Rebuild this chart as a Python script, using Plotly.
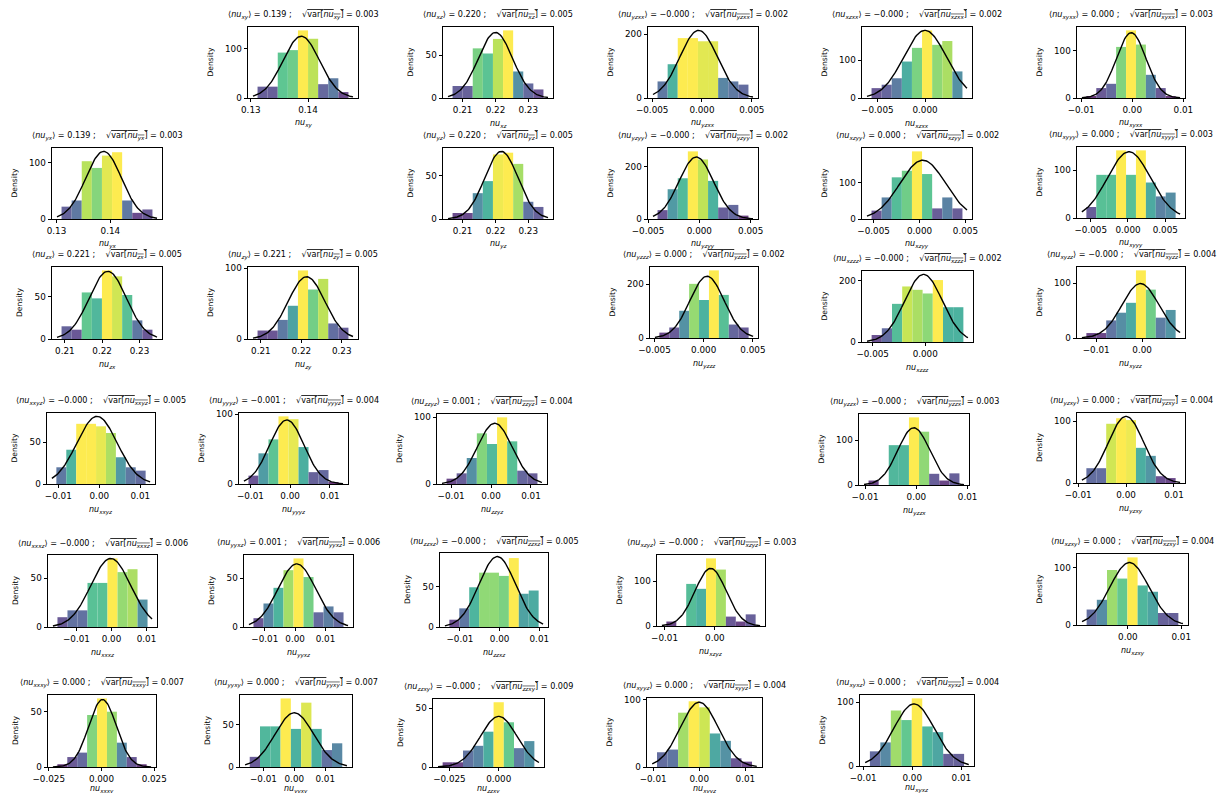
import numpy as np
import plotly.graph_objects as go
from plotly.colors import sample_colorscale

# ---------------- data ----------------
NAMES = ["xy", "xz", "yzxx", "xzxx", "xyxx",
         "yx", "yz", "yzyy", "xzyy", "xyyy",
         "zx", "zy", "yzzz", "xzzz", "xyzz",
         "xxyz", "yyyz", "zzyz", "yzzx", "yzxy",
         "xxxz", "yyxz", "zzxz", "xzyz", "xzxy",
         "xxxy", "yyxy", "zzxy", "xyyz", "xyxz"]

MEAN_TXT = ["0.139", "0.220", "\u22120.000", "\u22120.000", "0.000",
            "0.139", "0.220", "\u22120.000", "0.000", "0.000",
            "0.221", "0.221", "0.000", "\u22120.000", "\u22120.000",
            "\u22120.000", "\u22120.001", "0.001", "\u22120.000", "0.000",
            "\u22120.000", "0.001", "\u22120.000", "\u22120.000", "0.000",
            "0.000", "0.000", "\u22120.000", "0.000", "0.000"]

STD_TXT = ["0.003", "0.005", "0.002", "0.002", "0.003",
           "0.003", "0.005", "0.002", "0.002", "0.003",
           "0.005", "0.005", "0.002", "0.002", "0.004",
           "0.005", "0.004", "0.004", "0.003", "0.004",
           "0.006", "0.006", "0.005", "0.003", "0.004",
           "0.007", "0.007", "0.009", "0.004", "0.004"]

BIN_START = [0.13118, 0.20692, -0.00446, -0.00561, -0.00897,
             0.13094, 0.20692, -0.00407, -0.00522, -0.00558,
             0.20910, 0.20917, -0.00450, -0.00510, -0.01214,
             -0.01048, -0.01050, -0.01114, -0.00932, -0.00828,
             -0.01543, -0.01374, -0.01267, -0.00964, -0.00772,
             -0.02090, -0.01444, -0.02845, -0.00916, -0.00862]

BIN_WIDTH = [0.001765, 0.00308, 0.001014, 0.00106, 0.00194,
             0.001875, 0.00308, 0.000984, 0.00110, 0.00133,
             0.00271, 0.00250, 0.001007, 0.00097, 0.00216,
             0.00242, 0.00252, 0.00253, 0.00197, 0.00207,
             0.00286, 0.00330, 0.00250, 0.00197, 0.00191,
             0.00470, 0.00333, 0.00517, 0.00229, 0.00213]

HEIGHTS = [
    [23, 23, 92, 97, 137, 120, 28, 40, 12],
    [14, 14, 58, 52, 69, 79, 31, 17, 10],
    [52, 106, 188, 188, 178, 178, 63, 52, 42],
    [26, 35, 52, 96, 132, 178, 140, 150, 70],
    [4, 21, 30, 108, 143, 113, 49, 21, 4],
    [22, 33, 103, 91, 113, 119, 33, 11, 17],
    [7, 7, 30, 44, 75, 77, 64, 20, 14],
    [34, 114, 156, 259, 228, 146, 44, 54, 13],
    [23, 59, 114, 132, 185, 123, 29, 59, 29],
    [23, 90, 90, 141, 90, 141, 74, 45, 53],
    [15, 11, 55, 48, 81, 74, 52, 22, 11],
    [12, 12, 27, 47, 97, 70, 85, 22, 16],
    [20, 39, 101, 201, 141, 251, 160, 50, 39],
    [23, 45, 125, 182, 171, 159, 203, 114, 114],
    [9, 9, 32, 46, 64, 123, 88, 37, 51],
    [20, 41, 72, 72, 69, 61, 32, 20, 16],
    [12, 44, 64, 97, 93, 53, 17, 20, 2],
    [8, 16, 39, 76, 60, 100, 64, 20, 16],
    [10, 0, 89, 89, 151, 119, 25, 10, 26],
    [24, 24, 96, 105, 102, 57, 44, 11, 8],
    [10, 17, 17, 45, 45, 70, 56, 59, 28],
    [9, 24, 40, 58, 70, 51, 15, 21, 15],
    [9, 23, 49, 67, 67, 63, 85, 41, 45],
    [10, 0, 94, 83, 151, 126, 21, 10, 26],
    [27, 44, 96, 81, 118, 69, 58, 21, 21],
    [2.5, 9, 13, 47, 62, 50, 22, 9, 2.5],
    [12, 48, 48, 81, 45, 76, 45, 20, 28],
    [4, 4, 14, 18, 30, 55, 38, 16, 22],
    [22, 26, 81, 98, 89, 50, 39, 13, 8],
    [23, 37, 87, 72, 106, 62, 53, 19, 19],
]

FIT_MU = [0.13882, 0.2200, -0.00034, 0.0000, -0.0002,
          0.13875, 0.2218, -0.0003, 0.00036, 0.00013,
          0.2215, 0.2213, 0.00034, -0.00016, -0.00036,
          -0.00056, -0.00084, 0.00093, -0.0005, 0.0000,
          -0.0002, 0.00055, -0.0006, -0.00085, 0.0003,
          0.0005, 0.0000, 0.0000, 0.0000, 0.00035]

FIT_SIGMA = [0.00319, 0.00521, 0.00188, 0.00224, 0.00289,
             0.00331, 0.00508, 0.00168, 0.00248, 0.00289,
             0.00499, 0.00453, 0.00174, 0.00180, 0.00403,
             0.00493, 0.00434, 0.00438, 0.00312, 0.00369,
             0.00570, 0.00619, 0.00459, 0.00310, 0.00366,
             0.00654, 0.00623, 0.00928, 0.00413, 0.00410]

X_DTICK = [0.01, 0.01, 0.005, 0.005, 0.01,
           0.01, 0.01, 0.005, 0.005, 0.005,
           0.01, 0.01, 0.005, 0.005, 0.01,
           0.01, 0.01, 0.01, 0.01, 0.01,
           0.01, 0.01, 0.01, 0.01, 0.01,
           0.025, 0.01, 0.025, 0.01, 0.01]

Y_DTICK = [100, 50, 200, 100, 100,
           100, 50, 200, 100, 100,
           50, 100, 200, 200, 100,
           50, 100, 100, 100, 100,
           50, 50, 50, 100, 100,
           50, 50, 50, 100, 100]

# ---------------- layout of the axes boxes (pixels in the 1226x801 page) ----------------
BOXES = [
    (248, 358, 27, 98), (443, 553, 27, 98), (648, 758, 27, 98), (862, 972, 27, 98), (1077, 1185, 27, 98),
    (52, 162, 148, 219), (443, 553, 148, 219), (648, 758, 148, 219), (862, 972, 148, 219), (1077, 1185, 147, 218),
    (52, 162, 267, 339), (248, 358, 267, 339), (650, 758, 267, 338), (862, 973, 271, 342), (1077, 1185, 267, 338),
    (47, 155, 413, 484), (239, 348, 413, 484), (437, 547, 414, 484), (859, 969, 414, 485), (1077, 1185, 413, 483),
    (48, 157, 555, 627), (244, 353, 555, 627), (440, 548, 553, 627), (657, 765, 555, 626), (1077, 1188, 554, 625),
    (48, 156, 695, 767), (240, 352, 695, 767), (433, 544, 699, 767), (647, 762, 698, 767), (860, 974, 695, 766),
]

W, H = 1210, 785
OFF = 8
FONT = "DejaVu Sans"
TICK_FS = 8.8
TITLE_FS = 8.1
LABEL_FS = 7.6

fig = go.Figure()
annotations = []
layout_axes = {}

for i, name in enumerate(NAMES):
    k = i + 1
    xa = "x" if k == 1 else f"x{k}"
    ya = "y" if k == 1 else f"y{k}"
    heights = np.array(HEIGHTS[i], dtype=float)
    w = BIN_WIDTH[i]
    edges = BIN_START[i] + w * np.arange(len(heights) + 1)
    centers = (edges[:-1] + edges[1:]) / 2
    colors = sample_colorscale("Viridis", list(heights / heights.max()))

    fig.add_trace(go.Bar(x=centers, y=heights, width=[w] * len(heights),
                         marker=dict(color=colors, line=dict(width=0)), opacity=0.8,
                         xaxis=xa, yaxis=ya, showlegend=False, hoverinfo="skip"))

    a, b = edges[0], edges[-1]
    cl, ch = a - 0.05 * (b - a), b + 0.05 * (b - a)
    xs = np.linspace(cl, ch, 100)
    mu, sg = FIT_MU[i], FIT_SIGMA[i]
    pdf = np.exp(-0.5 * ((xs - mu) / sg) ** 2) / (sg * np.sqrt(2 * np.pi))
    fig.add_trace(go.Scatter(x=xs, y=pdf, mode="lines", line=dict(color="black", width=1.4),
                             xaxis=xa, yaxis=ya, showlegend=False, hoverinfo="skip"))

    xr = [cl - 0.05 * (ch - cl), ch + 0.05 * (ch - cl)]
    ymax = max(heights.max(), pdf.max()) * 1.05

    l, r, t, btm = BOXES[i]
    xdom = [(l - OFF) / W, (r - OFF) / W]
    ydom = [1 - (btm - OFF) / H, 1 - (t - OFF) / H]
    fmt = ".3f" if X_DTICK[i] in (0.005, 0.025) else ".2f"

    axcommon = dict(showline=True, linecolor="black", linewidth=0.9, mirror=True,
                    ticks="outside", ticklen=3.5, tickwidth=0.8, tickcolor="black",
                    showgrid=False, zeroline=False, automargin=False,
                    tickfont=dict(family=FONT, size=TICK_FS, color="black"))
    layout_axes["xaxis" if k == 1 else f"xaxis{k}"] = dict(
        domain=xdom, anchor=ya, range=xr, dtick=X_DTICK[i], tick0=0, tickformat=fmt, **axcommon)
    layout_axes["yaxis" if k == 1 else f"yaxis{k}"] = dict(
        domain=ydom, anchor=xa, range=[0, ymax], dtick=Y_DTICK[i], tick0=0, **axcommon)

    title = (f"\u27e8<i>nu</i><sub><i>{name}</i></sub>\u27e9 = {MEAN_TXT[i]} ;    "
             f"\u221a<span style='text-decoration:overline'>var[<i>nu</i><sub><i>{name}</i></sub>]</span>"
             f" = {STD_TXT[i]}")
    annotations.append(dict(text=title, xref=f"{xa} domain", yref=f"{ya} domain",
                            x=0.5, y=1, xanchor="center", yanchor="middle", yshift=12,
                            showarrow=False, font=dict(family=FONT, size=TITLE_FS, color="black")))
    # x-axis label
    xl_shift = -26 if btm < 760 else -22
    annotations.append(dict(text=f"<i>nu</i><sub><i>{name}</i></sub>", xref=f"{xa} domain",
                            yref=f"{ya} domain", x=0.5, y=0, xanchor="center", yanchor="middle",
                            yshift=xl_shift, showarrow=False,
                            font=dict(family=FONT, size=8, color="black")))
    # y-axis label (offset depends on the widest tick label)
    top_tick = Y_DTICK[i] * np.floor(ymax / Y_DTICK[i])
    yl_shift = -38 if top_tick >= 100 else -33
    annotations.append(dict(text="Density", xref=f"{xa} domain", yref=f"{ya} domain",
                            x=0, y=0.5, xanchor="center", yanchor="middle", xshift=yl_shift,
                            textangle=-90, showarrow=False,
                            font=dict(family=FONT, size=LABEL_FS, color="black")))

fig.update_layout(width=W, height=H, margin=dict(l=0, r=0, t=0, b=0),
                  paper_bgcolor="white", plot_bgcolor="white",
                  barmode="overlay", annotations=annotations, **layout_axes)

fig.write_html("out.html")
